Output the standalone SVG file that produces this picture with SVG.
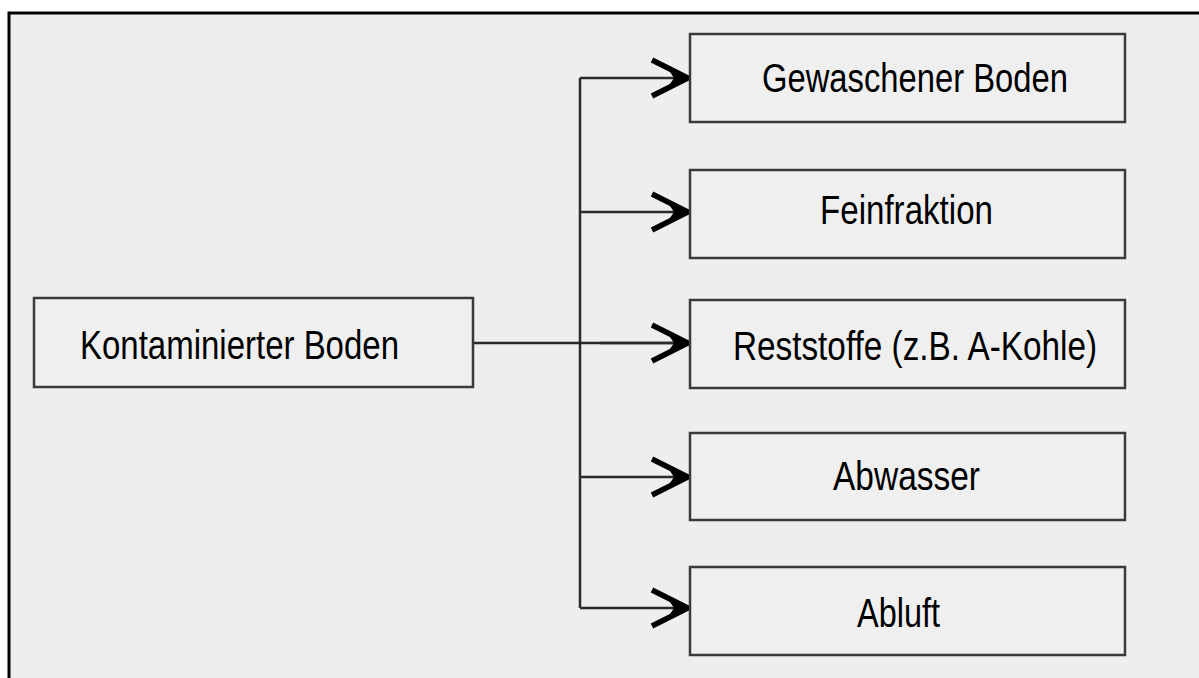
<svg xmlns="http://www.w3.org/2000/svg" width="1199" height="678" viewBox="0 0 1199 678">
  <style>
    .box { fill: #efefef; stroke: #3a3a3a; stroke-width: 2.5; }
    .halo { fill: none; stroke: #ffffff; stroke-width: 2; }
    .label { font-family: "Liberation Sans", Arial, sans-serif; font-size: 41px; fill: #000; }
    .wire { fill: none; stroke: #2a2a2a; stroke-width: 2.5; }
  </style>
  <defs>
    <!-- heavy open chevron with a solid core at the tip -->
    <marker id="chev" markerUnits="userSpaceOnUse" markerWidth="44" markerHeight="44" refX="38" refY="20" orient="auto" viewBox="0 0 44 40">
      <path d="M2 2 L38 20 L2 38" fill="none" stroke="#000" stroke-width="5.5" stroke-linejoin="miter"/>
      <path d="M18 11 L38 20 L18 29 L24 20 Z" fill="#000"/>
    </marker>
  </defs>

  <!-- page -->
  <rect x="0" y="0" width="1199" height="678" fill="#ffffff"/>
  <rect x="9" y="13" width="1200" height="700" fill="#eeeeee" stroke="#000" stroke-width="3"/>

  <!-- connectors -->
  <g id="connectors">
    <path class="wire" d="M473 343 H688"/>
    <path class="wire" d="M580 78 V608"/>
    <path class="wire" d="M580 78 H688" marker-end="url(#chev)"/>
    <path class="wire" d="M580 212 H688" marker-end="url(#chev)"/>
    <path class="wire" d="M600 343 H688" marker-end="url(#chev)"/>
    <path class="wire" d="M580 477 H688" marker-end="url(#chev)"/>
    <path class="wire" d="M580 608 H688" marker-end="url(#chev)"/>
  </g>

  <!-- source -->
  <g id="node-kontaminiert">
    <rect class="halo" x="36" y="300" width="435" height="85"/>
    <rect class="box" x="34" y="298" width="439" height="89"/>
    <text class="label" x="80" y="359" textLength="319" lengthAdjust="spacingAndGlyphs">Kontaminierter Boden</text>
  </g>

  <!-- outputs -->
  <g id="node-gewaschen">
    <rect class="box" x="690" y="34" width="435" height="88"/>
    <text class="label" x="762" y="92" textLength="306" lengthAdjust="spacingAndGlyphs">Gewaschener Boden</text>
  </g>
  <g id="node-feinfraktion">
    <rect class="box" x="690" y="170" width="435" height="88"/>
    <text class="label" x="820" y="224" textLength="173" lengthAdjust="spacingAndGlyphs">Feinfraktion</text>
  </g>
  <g id="node-reststoffe">
    <rect class="box" x="690" y="300" width="435" height="88"/>
    <text class="label" x="733" y="360" textLength="364" lengthAdjust="spacingAndGlyphs">Reststoffe (z.B. A-Kohle)</text>
  </g>
  <g id="node-abwasser">
    <rect class="box" x="690" y="433" width="435" height="87"/>
    <text class="label" x="833" y="490" textLength="147" lengthAdjust="spacingAndGlyphs">Abwasser</text>
  </g>
  <g id="node-abluft">
    <rect class="box" x="690" y="567" width="435" height="88"/>
    <text class="label" x="857" y="627" textLength="83" lengthAdjust="spacingAndGlyphs">Abluft</text>
  </g>
</svg>
